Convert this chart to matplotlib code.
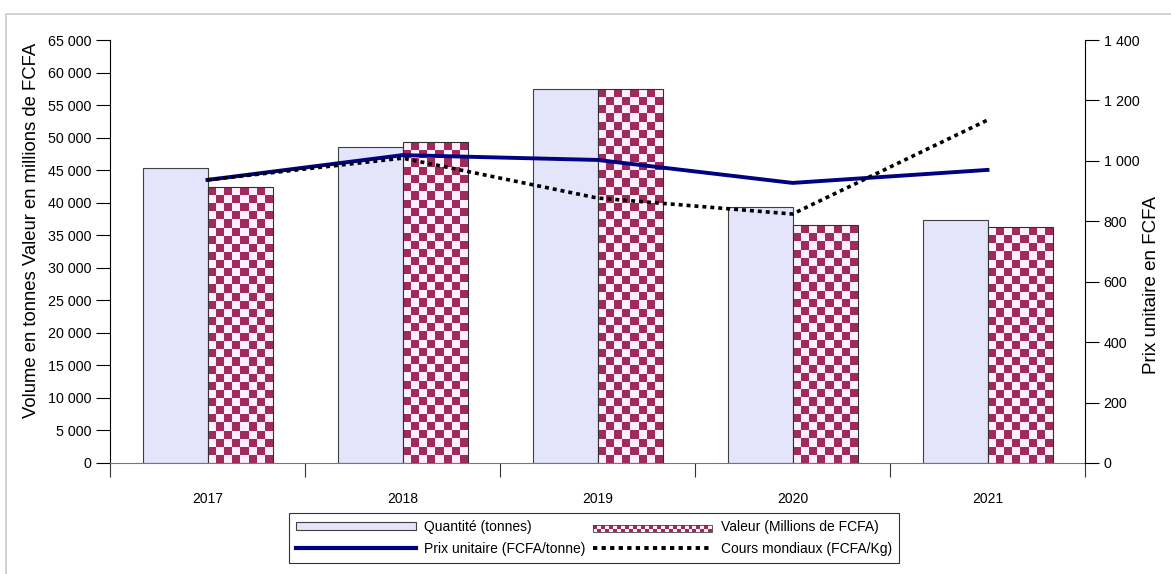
import numpy as np
import matplotlib
matplotlib.use("Agg")
import matplotlib.pyplot as plt
from matplotlib.patches import Rectangle
from matplotlib.legend_handler import HandlerBase
from matplotlib.lines import Line2D
from matplotlib.colors import ListedColormap
from matplotlib.ticker import FuncFormatter, MultipleLocator, FixedLocator

plt.rcParams['font.family'] = ['Liberation Sans', 'DejaVu Sans']

years = ["2017", "2018", "2019", "2020", "2021"]
quantite = [45300, 48500, 57450, 39300, 37300]      # tonnes
valeur = [42400, 49300, 57400, 36550, 36250]        # millions FCFA
prix_unitaire = [937, 1019, 1003, 927, 970]         # FCFA/tonne
cours_mondiaux = [937, 1009, 877, 824, 1135]        # FCFA/Kg

LIGHT = "#E4E4FA"
DARK_CHK, LIGHT_CHK = "#A02A5C", "#FDF0FC"
chk_cmap = ListedColormap([LIGHT_CHK, DARK_CHK])


def checker(nr, nc):
    return (np.add.outer(np.arange(nr), np.arange(nc)) % 2).astype(float)


class CheckerHandler(HandlerBase):
    def create_artists(self, legend, orig_handle, xd, yd, w, h, fontsize, trans):
        arts = []
        n = 30
        cw = w / n
        for r in range(2):
            for c in range(n):
                col = DARK_CHK if (r + c) % 2 else LIGHT_CHK
                arts.append(Rectangle((xd + c * cw, yd + r * h / 2), cw, h / 2,
                                      facecolor=col, edgecolor='none', transform=trans))
        arts.append(Rectangle((xd, yd), w, h, fill=False, edgecolor='#404040',
                              lw=0.6, transform=trans))
        return arts


fig = plt.figure(figsize=(11.71, 5.74), dpi=100)
ax = fig.add_axes([110 / 1171, 1 - 463 / 574, 975 / 1171, 423 / 574])
ax2 = ax.twinx()

fig.patches.append(Rectangle((6 / 1171, -0.01), 1.0, 1 - 14 / 574 + 0.01,
                             transform=fig.transFigure, fill=False,
                             edgecolor="#CCCCCC", lw=1.2))

x = np.arange(len(years))
bw = 1 / 3
ymax = 65000
ax.bar(x - bw / 2, quantite, bw, color=LIGHT, edgecolor='#404040', lw=0.8, zorder=2)

# checkered bars for "Valeur"
cell_px = 8.2
px_per_unit = 423 / ymax
for xi, v in zip(x, valeur):
    nr = max(1, int(round(v * px_per_unit / cell_px)))
    ax.imshow(checker(nr, 8)[::-1], cmap=chk_cmap, vmin=0, vmax=1,
              extent=(xi, xi + bw, 0, v), aspect='auto',
              interpolation='nearest', zorder=2)
    ax.add_patch(Rectangle((xi, 0), bw, v, fill=False, edgecolor='#303030',
                           lw=0.8, zorder=3))

ax.set_xlim(-0.5, len(years) - 0.5)
ax.set_ylim(0, ymax)
ax.yaxis.set_major_locator(MultipleLocator(5000))
fmt = FuncFormatter(lambda v, p: f"{int(v):,}".replace(",", " "))
ax.yaxis.set_major_formatter(fmt)
ax.set_xticks(x)
ax.set_xticklabels(years)
ax.xaxis.set_minor_locator(FixedLocator(np.arange(-0.5, len(years), 1)))
ax.tick_params(axis='x', which='major', length=0, pad=21, labelsize=10)
ax.tick_params(axis='x', which='minor', length=10, width=0.8, color='#333333')
ax.tick_params(axis='y', length=10, width=0.8, labelsize=10.3)
ax.set_ylabel("Volume en tonnes Valeur en millions de FCFA", fontsize=13.3)
ax.yaxis.set_label_coords(-0.072, 0.55)

ax2.plot(x, prix_unitaire, color='#000080', lw=2.8, zorder=5)
ax2.plot(x, cours_mondiaux, color='black', lw=2.6,
         linestyle=(0, (1.1, 1.1)), dash_capstyle='butt', zorder=6)
ax2.set_ylim(0, 1400)
ax2.yaxis.set_major_locator(MultipleLocator(200))
ax2.yaxis.set_major_formatter(fmt)
ax2.tick_params(axis='y', length=10, width=0.8, labelsize=10.3)
ax2.set_ylabel("Prix unitaire en FCFA", fontsize=13.5)
ax2.yaxis.set_label_coords(1.06, 0.42)

for a in (ax, ax2):
    a.spines['top'].set_visible(False)
ax.spines['right'].set_visible(False)
ax2.spines['left'].set_visible(False)
ax2.spines['bottom'].set_visible(False)
ax.spines['bottom'].set_color('#777777')
ax.set_zorder(ax2.get_zorder() - 1)
ax.patch.set_visible(False)

h_q = Rectangle((0, 0), 1, 1, facecolor=LIGHT, edgecolor='#404040', lw=0.8)
h_v = Rectangle((0, 0), 1, 1)
h_p = Line2D([], [], color='#000080', lw=3)
h_c = Line2D([], [], color='black', lw=2.8, linestyle=(0, (1.1, 1.1)),
             dash_capstyle='butt')
leg = fig.legend([h_q, h_p, h_v, h_c],
                 ["Quantité (tonnes)", "Prix unitaire (FCFA/tonne)",
                  "Valeur (Millions de FCFA)", "Cours mondiaux (FCFA/Kg)"],
                 handler_map={h_v: CheckerHandler()},
                 ncol=2, loc='center', bbox_to_anchor=(594 / 1171, 1 - 538 / 574),
                 fontsize=10, frameon=True, fancybox=False, edgecolor='black',
                 handlelength=8.6, handleheight=0.45, columnspacing=0.55,
                 handletextpad=0.6, labelspacing=0.55, borderpad=0.5)
leg.get_frame().set_linewidth(0.8)

fig.savefig("out.png", dpi=100)
